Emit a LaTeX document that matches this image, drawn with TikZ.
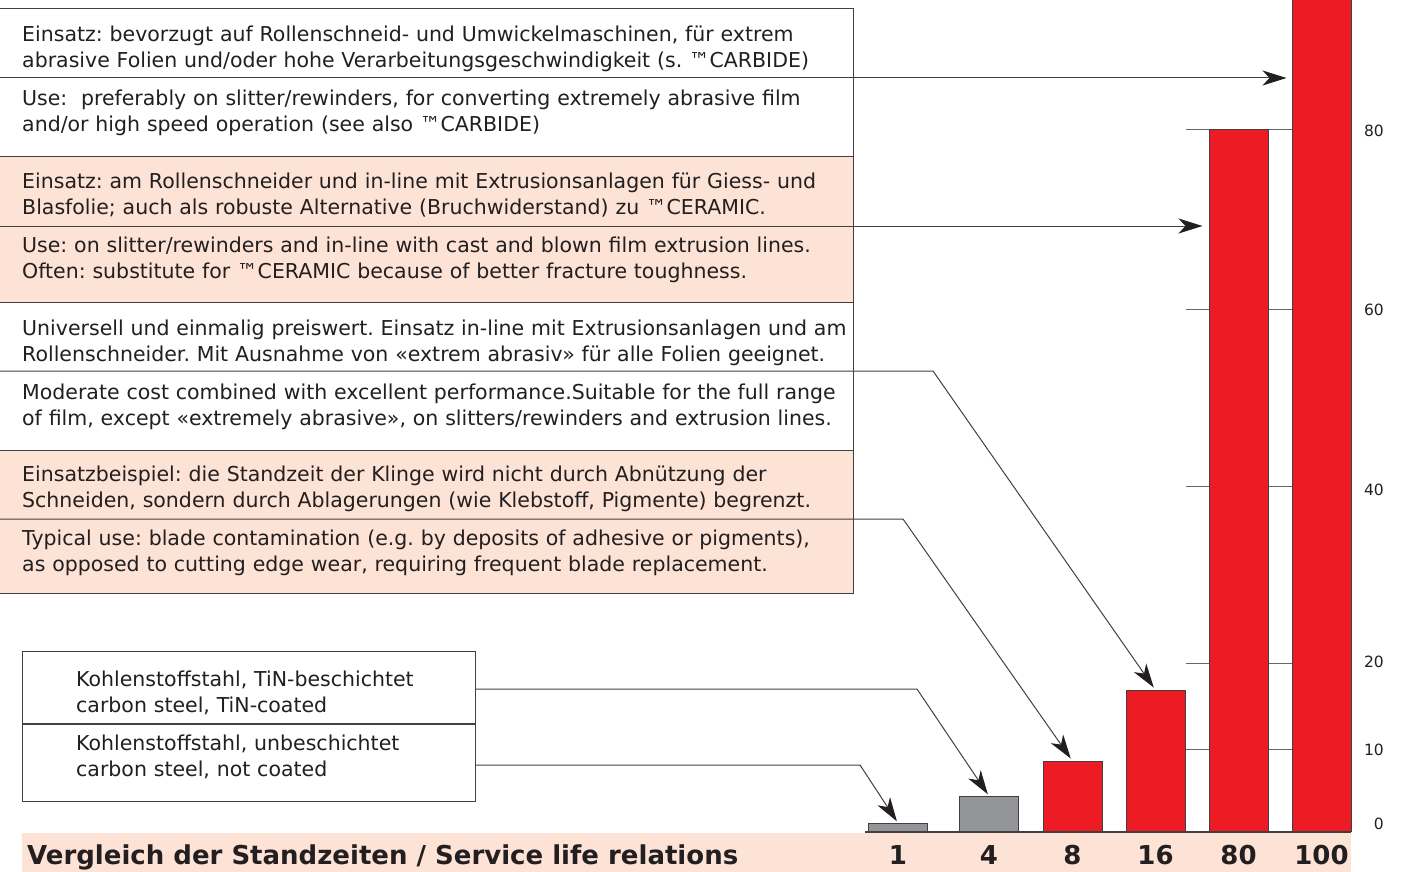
\documentclass[tikz,border=0pt]{standalone}
\usepackage{fontspec}
\setmainfont{DejaVu Sans}
\usetikzlibrary{arrows.meta,calc}

\definecolor{barRed}{RGB}{237,28,36}
\definecolor{barGray}{RGB}{147,149,152}
\definecolor{bandPink}{RGB}{253,226,214}
\definecolor{lineGray}{RGB}{64,64,64}
\definecolor{txtGray}{RGB}{35,31,32}

\begin{document}
\frenchspacing
\begin{tikzpicture}[
  x=1pt, y=-1pt,
  % --- node styles ---
  panel/.style={draw=lineGray, line width=1.2pt, fill=#1, anchor=north west,
                minimum width=855pt, inner sep=0pt},
  txt/.style={anchor=base west, inner sep=0pt, text width=900pt, align=left,
              font=\fontsize{20.5}{26}\selectfont, text=txtGray},
  bar/.style={draw=lineGray, line width=1pt, fill=#1, anchor=south,
              minimum width=59pt, inner sep=0pt},
  conn/.style={lineGray, line width=1pt,
               -{Stealth[length=24pt,width=15pt,inset=7pt,color=txtGray]}},
  grid/.style={lineGray!80, line width=1pt},
  tick/.style={anchor=base east, inner sep=0pt,
               font=\fontsize{15.5}{18}\selectfont, text=txtGray},
  big/.style={anchor=base, inner sep=0pt,
              font=\fontsize{26}{28}\selectfont\bfseries, text=txtGray},
]
  \useasboundingbox (0,0) rectangle (1421,872);
  \clip (0,0) rectangle (1421,872);

  % --- Text panels (top) ---
  \node[panel=white,    minimum height=148pt] (p1) at (-2,8)   {};
  \node[panel=bandPink, minimum height=146pt] (p2) at (-2,156) {};
  \node[panel=white,    minimum height=148pt] (p3) at (-2,302) {};
  \node[panel=bandPink, minimum height=143pt] (p4) at (-2,450) {};

  \node[txt] (de1) at (22,42)  {Einsatz: bevorzugt auf Rollenschneid- und Umwickelmaschinen, für extrem\\abrasive Folien und/oder hohe Verarbeitungsgeschwindigkeit (s. ™CARBIDE)};
  \node[txt] (en1) at (22,106) {Use:\ \ preferably on slitter/rewinders, for converting extremely abrasive film\\and/or high speed operation (see also ™CARBIDE)};
  \node[txt] (de2) at (22,188) {Einsatz: am Rollenschneider und in-line mit Extrusionsanlagen für Giess- und\\Blasfolie; auch als robuste Alternative (Bruchwiderstand) zu ™CERAMIC.};
  \node[txt] (en2) at (22,252) {Use: on slitter/rewinders and in-line with cast and blown film extrusion lines.\\Often: substitute for ™CERAMIC because of better fracture toughness.};
  \node[txt] (de3) at (22,335) {Universell und einmalig preiswert. Einsatz in-line mit Extrusionsanlagen und am\\Rollenschneider. Mit Ausnahme von «extrem abrasiv» für alle Folien geeignet.};
  \node[txt] (en3) at (22,399) {Moderate cost combined with excellent performance.Suitable for the full range\\of film, except «extremely abrasive», on slitters/rewinders and extrusion lines.};
  \node[txt] (de4) at (22,481) {Einsatzbeispiel: die Standzeit der Klinge wird nicht durch Abnützung der\\Schneiden, sondern durch Ablagerungen (wie Klebstoff, Pigmente) begrenzt.};
  \node[txt] (en4) at (22,545) {Typical use: blade contamination (e.g. by deposits of adhesive or pigments),\\as opposed to cutting edge wear, requiring frequent blade replacement.};

  % --- Steel panel (bottom left) ---
  \node[panel=white, minimum width=453pt, minimum height=150pt] (ps) at (22,651) {};
  \draw[lineGray, line width=1.2pt] (22,724) -- (475,724);
  \node[txt, text width=420pt] (tin)  at (76,686) {Kohlenstoffstahl, TiN-beschichtet\\carbon steel, TiN-coated};
  \node[txt, text width=420pt] (bare) at (76,750) {Kohlenstoffstahl, unbeschichtet\\carbon steel, not coated};

  % --- Grid lines ---
  \foreach \gy in {130,309,486,663,749}
    \draw[grid] (1186,\gy) -- (1292,\gy);

  % --- Bars ---
  \node[bar=barGray, minimum height=8pt]   (b1)   at (898,832)    {};
  \node[bar=barGray, minimum height=35pt]  (b4)   at (989,832)    {};
  \node[bar=barRed,  minimum height=70pt]  (b8)   at (1072.5,832) {};
  \node[bar=barRed,  minimum height=141pt] (b16)  at (1155.5,832) {};
  \node[bar=barRed,  minimum height=702pt] (b80)  at (1238.5,832) {};
  \node[bar=barRed,  minimum height=845pt] (b100) at (1321.5,832) {};

  % --- Axis ---
  \draw[lineGray, line width=1.2pt] (865,832) -- (1351,832);
  \foreach \ty/\tv in {829/0,755/10,667/20,495/40,315/60,136/80}
    \node[tick] (t\tv) at (1384,\ty) {\tv};

  % --- Connectors ---
  \coordinate (d1) at (-2,78);
  \coordinate (d2) at (-2,226);
  \coordinate (d3) at (-2,371);
  \coordinate (d4) at (-2,519);
  \coordinate (s1) at (475,689);
  \coordinate (s2) at (475,765);
  \draw[conn, shorten >=5pt] (d1) -- (d1 -| b100.west);
  \draw[conn, shorten >=6pt] (d2) -- (d2 -| b80.west);
  \draw[conn, shorten >=3pt] (d3) -- (933,371) -- (b16.north);
  \draw[conn, shorten >=3pt] (d4) -- (903,519) -- (b8.north);
  \draw[conn, shorten >=2pt] (s1) -- (917,689) -- (b4.north);
  \draw[conn, shorten >=2pt] (s2) -- (860,765) -- (b1.north);

  % --- Title band ---
  \fill[bandPink] (22,833) rectangle (1351,872);
  \node[big, anchor=base west] (title) at (27,864) {Vergleich der Standzeiten / Service life relations};
  \node[big] (l1)   at (b1.south |- 0,864)   {1};
  \node[big] (l4)   at (b4.south |- 0,864)   {4};
  \node[big] (l8)   at (b8.south |- 0,864)   {8};
  \node[big] (l16)  at (b16.south |- 0,864)  {16};
  \node[big] (l80)  at (b80.south |- 0,864)  {80};
  \node[big] (l100) at (b100.south |- 0,864) {100};
\end{tikzpicture}
\end{document}
